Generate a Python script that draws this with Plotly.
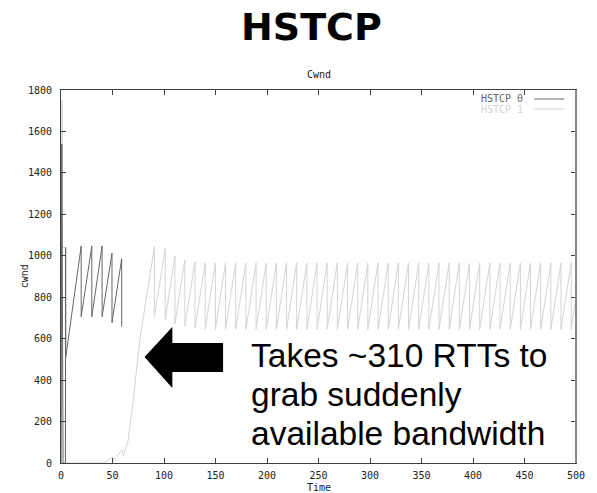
import plotly.graph_objects as go

# ---- data ---------------------------------------------------------------
# HSTCP 0: start-up spike, slow start, then sawtooth until the flow stops (~59 s)
hs0_time = [0, 0.8, 2.0, 4.3, 4.5, 4.6, 19.6, 19.6, 29.9, 29.9, 39.9, 39.9,
            49.5, 49.5, 58.9, 58.9]
hs0_cwnd = [0, 1540, 0, 0, 1040, 510, 1047, 706, 1047, 706, 1047, 706,
            1013, 677, 986, 658]

# HSTCP 1: start-up spike, idle, then ramp once flow 0 leaves
hs1_start_time = [0, 1.0, 1.3, 4.2, 4.3, 41.8, 50.5, 50.6, 59.2, 60.5, 65.0,
                  70.0, 73.0, 76.5, 80.0, 85.0]
hs1_start_cwnd = [0, 1752, 1040, 1040, 0, 0, 30, 10, 63, 35, 105,
                  295, 450, 595, 705, 870]

# HSTCP 1 sawtooth: peak instants, peak values and the value right after each drop
hs1_peak_time = [90.7, 101.2, 110.6, 120.2, 130.1, 140.0, 149.9, 159.7, 169.6,
                 179.5, 189.4, 199.2, 209.1, 219.0, 228.8, 238.7, 248.6, 258.4,
                 268.3, 278.2, 288.1, 297.9, 307.8, 317.7, 327.5, 337.4, 347.3,
                 357.1, 367.0, 376.9, 386.7, 396.6, 406.5, 416.4, 426.2, 436.1,
                 446.0, 455.8, 465.7, 475.6, 485.4, 495.3]
hs1_peak_cwnd = [1045, 1036, 1000, 980, 971, 965, 965, 966, 964, 965, 966, 964,
                 965, 965, 966, 964, 965, 965, 966, 964, 965, 965, 966, 964,
                 965, 965, 966, 964, 965, 965, 966, 964, 965, 965, 966, 964,
                 965, 965, 966, 964, 965, 965]
hs1_drop_cwnd = [706, 690, 672, 660, 652, 647, 645, 645, 644, 645, 645, 644,
                 645, 645, 645, 644, 645, 645, 645, 644, 645, 645, 645, 644,
                 645, 645, 645, 644, 645, 645, 645, 644, 645, 645, 645, 644,
                 645, 645, 645, 644, 645, 645]
hs1_end_time = 500
hs1_end_cwnd = 800

x_ticks = [0, 50, 100, 150, 200, 250, 300, 350, 400, 450, 500]
y_ticks = [0, 200, 400, 600, 800, 1000, 1200, 1400, 1600, 1800]

# ---- build the HSTCP 1 polyline -------------------------------------------
hs1_time = list(hs1_start_time)
hs1_cwnd = list(hs1_start_cwnd)
for t, p, d in zip(hs1_peak_time, hs1_peak_cwnd, hs1_drop_cwnd):
    hs1_time += [t, t]
    hs1_cwnd += [p, d]
hs1_time.append(hs1_end_time)
hs1_cwnd.append(hs1_end_cwnd)

DARK = "#666666"
LIGHT = "#d4d4d4"
AXIS = "#404040"
MONO = "DejaVu Sans Mono"

fig = go.Figure()
fig.add_trace(go.Scatter(x=hs1_time, y=hs1_cwnd, mode="lines", name="HSTCP 1",
                         line=dict(color=LIGHT, width=1), showlegend=False))
fig.add_trace(go.Scatter(x=hs0_time, y=hs0_cwnd, mode="lines", name="HSTCP 0",
                         line=dict(color=DARK, width=1), showlegend=False))

axis_common = dict(showgrid=False, zeroline=False, showline=True,
                   linecolor=AXIS, linewidth=1, mirror="allticks",
                   ticks="inside", ticklen=5, tickcolor=AXIS, tickwidth=1,
                   tickfont=dict(family=MONO, size=10, color="#222222"))

fig.update_xaxes(range=[0, 500], tickvals=x_ticks, ticklabelstandoff=3,
                 **axis_common)
fig.update_yaxes(range=[0, 1800], tickvals=y_ticks, ticklabelstandoff=6,
                 **axis_common)

# block arrow pointing at the HSTCP 1 ramp
arrow = ("M 0.1622,0.2842 L 0.2162,0.3646 L 0.2162,0.3217 L 0.3147,0.3217 "
         "L 0.3147,0.2440 L 0.2162,0.2440 L 0.2162,0.2011 Z")

shapes = [
    dict(type="path", xref="paper", yref="paper", path=arrow,
         fillcolor="black", line=dict(color="black", width=0)),
    # legend line samples
    dict(type="line", xref="paper", yref="paper", x0=0.919, x1=0.977,
         y0=0.9759, y1=0.9759, line=dict(color=DARK, width=1)),
    dict(type="line", xref="paper", yref="paper", x0=0.919, x1=0.977,
         y0=0.949, y1=0.949, line=dict(color=LIGHT, width=1)),
    # right border is drawn heavier and lighter
    dict(type="line", xref="paper", yref="paper", x0=1, x1=1, y0=0, y1=1,
         line=dict(color="#8a8a8a", width=2)),
]

def label(text, x, y, size, color="#222222", family=MONO, **kw):
    return dict(text=text, x=x, y=y, xref="paper", yref="paper",
                yanchor="middle", showarrow=False,
                font=dict(family=family, size=size, color=color), **kw)

annotations = [
    label("<b>HSTCP</b>", 0.4865, (463 - 27) / 373, 38, "black", "DejaVu Sans"),
    label("Cwnd", 0.5, (463 - 75) / 373, 10),
    label("Time", 0.5, (463 - 487) / 373, 10),
    label("cwnd", -0.085, 0.5, 10, textangle=-90),
    label("HSTCP 0", 0.9015, 0.9759, 10, DARK, xanchor="right"),
    label("HSTCP 1", 0.9015, 0.949, 10, LIGHT, xanchor="right"),
]

callout = ["Takes ~310 RTTs to", "grab suddenly", "available bandwidth"]
callout_y = [355, 394, 433]
for line, py in zip(callout, callout_y):
    annotations.append(label(line, 0.3649, (463 - py) / 373, 33.5, "black",
                             "Liberation Sans", xanchor="left"))

fig.update_layout(width=597, height=493, autosize=False,
                  margin=dict(l=61, r=18, t=90, b=30),
                  paper_bgcolor="white", plot_bgcolor="white",
                  shapes=shapes, annotations=annotations)

fig.write_html("out.html")
